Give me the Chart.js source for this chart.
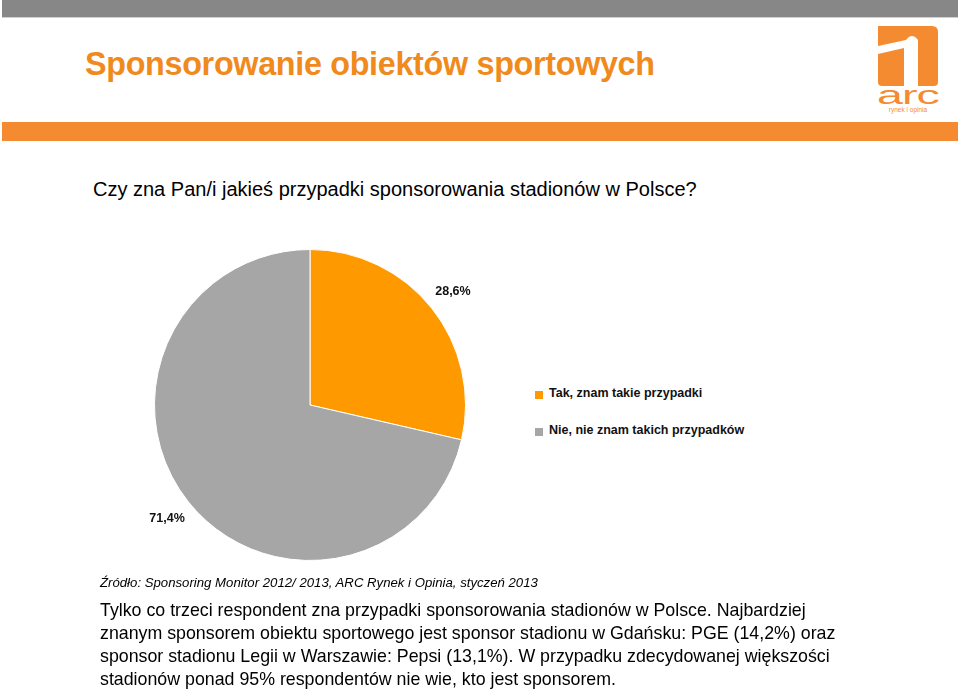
<!DOCTYPE html>
<html>
<head>
<meta charset="utf-8">
<script src="https://cdn.jsdelivr.net/npm/chart.js@4"></script>
<style>
  body { margin: 0; width: 960px; height: 690px; background: #fff; position: relative; overflow: hidden;
         font-family: "Liberation Sans", Arial, sans-serif; color: #000; }
  .abs { position: absolute; }
  #topbar { left: 2px; top: 0; width: 956px; height: 17px; background: #878787; border-bottom: 1px solid #d0d0d0; }
  #orangebar { left: 2px; top: 122px; width: 956px; height: 19px; background: #f58b31; }
  #title { left: 85px; top: 46px; font-size: 32.3px; font-weight: bold; color: #f08a1c; letter-spacing: -0.3px; }
  #question { left: 93px; top: 178px; font-size: 20px; }
  #legend { left: 535px; top: 386px; font-size: 12.5px; font-weight: bold; color: #111; }
  #legend div { height: 37px; display: flex; align-items: flex-start; }
  #legend span.box { width: 8px; height: 8px; margin-right: 6px; margin-top: 5px; }
  #source { left: 100px; top: 575px; font-size: 13.2px; font-style: italic; }
  #text { left: 100px; top: 599px; font-size: 17.8px; line-height: 23px; width: 860px; white-space: nowrap; }
  #chartWrap { left: 110px; top: 205px; width: 400px; height: 400px; }
</style>
</head>
<body>
<div id="topbar" class="abs"></div>
<div id="title" class="abs">Sponsorowanie obiektów sportowych</div>
<svg class="abs" style="left:872px; top:22px" width="70" height="92" viewBox="0 0 70 92">
  <path d="M6 4 H60 Q66 4 66 10 V60 Q66 64 62 64 H46 V18 Q40 10 34 18 L6 24 Z" fill="#f58b31"/>
  <path d="M6 32 L32 26 V64 H10 Q6 64 6 60 Z" fill="#f58b31"/>
  <text x="36" y="82" font-family="Liberation Sans, Arial" font-size="26" fill="#f58b31" text-anchor="middle" letter-spacing="-0.5" textLength="62" lengthAdjust="spacingAndGlyphs">arc</text>
  <text x="36" y="90" font-family="Liberation Sans, Arial" font-size="6.5" fill="#f58b31" text-anchor="middle">rynek i opinia</text>
</svg>
<div id="orangebar" class="abs"></div>
<div id="question" class="abs">Czy zna Pan/i jakieś przypadki sponsorowania stadionów w Polsce?</div>
<div id="chartWrap" class="abs"><canvas id="pie"></canvas></div>
<div id="legend" class="abs"></div>
<div id="source" class="abs">Źródło: Sponsoring Monitor 2012/ 2013, ARC Rynek i Opinia, styczeń 2013</div>
<div id="text" class="abs">Tylko co trzeci respondent zna przypadki sponsorowania stadionów w Polsce. Najbardziej<br>znanym sponsorem obiektu sportowego jest sponsor stadionu w Gdańsku: PGE (14,2%) oraz<br>sponsor stadionu Legii w Warszawie: Pepsi (13,1%). W przypadku zdecydowanej większości<br>stadionów ponad 95% respondentów nie wie, kto jest sponsorem.</div>
<script>
// data
const categories = ['Tak, znam takie przypadki', 'Nie, nie znam takich przypadków'];
const shares = [28.6, 71.4];
const sliceColors = ['#ff9900', '#a6a6a6'];

// legend
const legend = document.getElementById('legend');
categories.forEach((c, i) => {
    const row = document.createElement('div');
    row.innerHTML = `<span class="box" style="background:${sliceColors[i]}"></span>${c}`;
    legend.appendChild(row);
});

// labels outside the slices
const outsideLabels = {
    id: 'outsideLabels',
    afterDatasetsDraw(chart) {
        const c = chart.ctx;
        const meta = chart.getDatasetMeta(0);
        c.save();
        c.font = 'bold 12.5px "Liberation Sans", Arial, sans-serif';
        c.fillStyle = '#111';
        c.textAlign = 'center';
        c.textBaseline = 'middle';
        meta.data.forEach((arc, i) => {
            const mid = (arc.startAngle + arc.endAngle) / 2;
            const r = arc.outerRadius * 1.175;
            c.fillText(shares[i].toFixed(1).replace('.', ',') + '%',
                arc.x + Math.cos(mid) * r, arc.y + Math.sin(mid) * r);
        });
        c.restore();
    }
};

new Chart(document.getElementById('pie'), {
    type: 'pie',
    data: {
        labels: categories,
        datasets: [{
            data: shares,
            backgroundColor: sliceColors,
            borderColor: '#ffffff',
            borderWidth: 1
        }]
    },
    options: {
        responsive: true,
        maintainAspectRatio: false,
        animation: false,
        layout: { padding: 44 },
        plugins: { legend: { display: false }, tooltip: { enabled: false } }
    },
    plugins: [outsideLabels]
});
</script>
</body>
</html>
